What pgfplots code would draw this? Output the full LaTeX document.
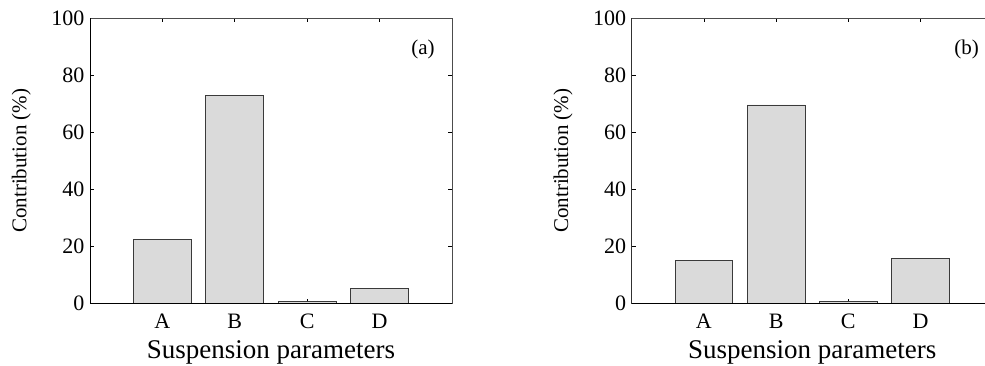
\documentclass[border=0pt]{standalone}
\usepackage{fontspec}
\setmainfont{Liberation Serif}
\usepackage{pgfplots}
\pgfplotsset{compat=1.18}
\definecolor{barfill}{HTML}{DADADA}
\definecolor{baredge}{HTML}{3A3A3A}
\pgfplotsset{
  mypanel/.style={
    scale only axis,
    width=362pt, height=285pt,
    xmin=0, xmax=5, ymin=0, ymax=100,
    xtick={1,2,3,4}, xticklabels={A,B,C,D},
    ytick={0,20,40,60,80,100},
    tick align=inside,
    major tick length=4pt,
    tick style={black, line width=0.8pt},
    axis line style={draw=black!70, line width=0.7pt},
    /pgf/number format/assume math mode=true,
    ticklabel style={font=\fontsize{22}{24}\selectfont},
    yticklabel style={xshift=-2pt},
    xticklabel style={yshift=-7pt},
    xlabel={Suspension parameters},
    ylabel={Contribution (\%)},
    xlabel style={font=\fontsize{27}{29}\selectfont, at={(axis description cs:0.5,-0.192)}, anchor=base},
    ylabel style={font=\fontsize{21}{23}\selectfont, at={(axis description cs:-0.19,0.5)}, anchor=center, rotate=0},
  },
  mybar/.style={ybar, bar width=0.8, fill=barfill, draw=baredge, line width=0.8pt, mark=none},
}
\begin{document}
\begin{tikzpicture}
\begin{axis}[mypanel, at={(90pt,-303.3pt)}, anchor=south west]
\addplot[mybar] coordinates {(1,22.4) (2,72.8) (3,0.6) (4,5.3)};
\draw[black, line width=1.4pt] (rel axis cs:0,1) -- (rel axis cs:0,0) -- (rel axis cs:1,0);
\node[font=\fontsize{21}{23}\selectfont] at (rel axis cs:0.92,0.889) {(a)};
\end{axis}
\begin{axis}[mypanel, width=361pt, at={(631.7pt,-303.3pt)}, anchor=south west]
\addplot[mybar] coordinates {(1,15.0) (2,69.6) (3,0.6) (4,15.8)};
\draw[black, line width=1.4pt] (rel axis cs:0,1) -- (rel axis cs:0,0) -- (rel axis cs:1,0);
\node[font=\fontsize{21}{23}\selectfont] at (rel axis cs:0.928,0.889) {(b)};
\end{axis}
\pgfresetboundingbox
\useasboundingbox (0,0) rectangle (985pt,-366pt);
\end{tikzpicture}
\end{document}
